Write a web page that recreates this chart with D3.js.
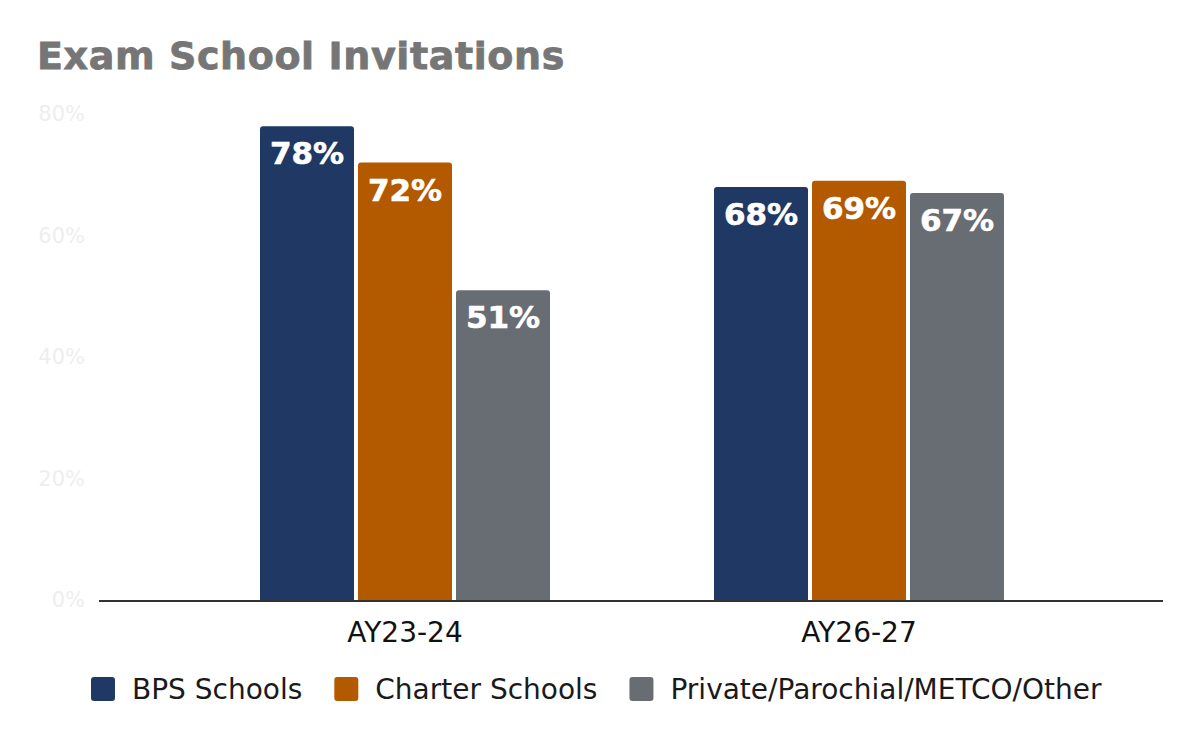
<!DOCTYPE html>
<html>
<head>
    <meta charset="utf-8">
    <script src="https://d3js.org/d3.v7.min.js"></script>
    <style>
        body { margin: 0; background: #ffffff; }
        svg { display: block; }
    </style>
</head>
<body>
    <svg id="chart" width="1200" height="742"></svg>

    <script>
        // Chart data
        const years = ["AY23-24", "AY26-27"];
        const schoolTypes = ["BPS Schools", "Charter Schools", "Private/Parochial/METCO/Other"];
        const bpsValues = [0.78, 0.68];
        const charterValues = [0.72, 0.69];
        const otherValues = [0.51, 0.67];
        const yTicks = [0, 0.2, 0.4, 0.6, 0.8];

        const seriesValues = [bpsValues, charterValues, otherValues];
        const colors = ["#203864", "#b35900", "#686c73"];

        const svg = d3.select("#chart"),
            width = +svg.attr("width"),
            height = +svg.attr("height");

        const font = "'DejaVu Sans', Verdana, sans-serif";

        // plot area
        const axisLeft = 99, axisRight = 1163;
        const baseline = 600;
        const groupWidth = 290;

        const y = d3.scaleLinear()
            .domain([0, 0.8])
            .range([baseline, 114]);

        const x0 = d3.scaleBand()
            .domain(years)
            .range([178, 1086]);

        const x1 = d3.scaleBand()
            .domain(schoolTypes)
            .range([0, groupWidth])
            .paddingInner(4 / 98);

        // Title
        svg.append("text")
            .attr("x", 37)
            .attr("y", 69)
            .attr("font-family", font)
            .attr("font-weight", "bold")
            .attr("font-size", "38px")
            .attr("letter-spacing", "0.6px")
            .attr("fill", "#767676")
            .attr("stroke", "#767676")
            .attr("stroke-width", 0.8)
            .text("Exam School Invitations");

        // Y axis (labels only)
        const yAxis = svg.append("g")
            .attr("transform", `translate(${axisLeft - 14},0)`)
            .call(d3.axisLeft(y).tickValues(yTicks).tickSize(0).tickFormat(d3.format(".0%")));
        yAxis.select(".domain").remove();
        yAxis.selectAll("text")
            .attr("font-family", font)
            .attr("font-size", "21px")
            .attr("fill", "#eeeeee")
            .attr("x", 0);

        // Bars
        const groups = svg.append("g")
            .selectAll("g")
            .data(years)
            .join("g")
            .attr("transform", d => `translate(${x0(d) + (x0.bandwidth() - groupWidth) / 2},0)`);

        const barData = i => schoolTypes.map((s, j) => ({ type: s, value: seriesValues[j][i], color: colors[j] }));

        groups.each(function (year, i) {
            const g = d3.select(this);
            const data = barData(i);
            const r = 3;

            g.selectAll("path")
                .data(data)
                .join("path")
                .attr("fill", d => d.color)
                .attr("d", d => {
                    const bx = x1(d.type), bw = x1.bandwidth(), top = y(d.value);
                    return `M${bx},${baseline}V${top + r}Q${bx},${top} ${bx + r},${top}` +
                        `H${bx + bw - r}Q${bx + bw},${top} ${bx + bw},${top + r}V${baseline}Z`;
                });

            g.selectAll("text")
                .data(data)
                .join("text")
                .attr("x", d => x1(d.type) + x1.bandwidth() / 2)
                .attr("y", d => y(d.value) + 38)
                .attr("text-anchor", "middle")
                .attr("font-family", font)
                .attr("font-weight", "bold")
                .attr("font-size", "31px")
                .attr("fill", "#ffffff")
                .attr("stroke", "#ffffff")
                .attr("stroke-width", 0.6)
                .text(d => d3.format(".0%")(d.value));
        });

        // Baseline
        svg.append("line")
            .attr("x1", axisLeft)
            .attr("x2", axisRight)
            .attr("y1", baseline + 1)
            .attr("y2", baseline + 1)
            .attr("stroke", "#333333")
            .attr("stroke-width", 2);

        // X labels
        svg.append("g")
            .selectAll("text")
            .data(years)
            .join("text")
            .attr("x", d => x0(d) + x0.bandwidth() / 2)
            .attr("y", 642)
            .attr("text-anchor", "middle")
            .attr("font-family", font)
            .attr("font-size", "28px")
            .attr("fill", "#111111")
            .text(d => d);

        // Legend
        const legend = svg.append("g");
        let lx = 91;
        schoolTypes.forEach((s, j) => {
            legend.append("rect")
                .attr("x", lx)
                .attr("y", 677)
                .attr("width", 24)
                .attr("height", 24)
                .attr("rx", 3)
                .attr("fill", colors[j]);
            const t = legend.append("text")
                .attr("x", lx + 41)
                .attr("y", 699)
                .attr("font-family", font)
                .attr("font-size", "28px")
                .attr("fill", "#1a1a1a")
                .text(s);
            lx += 41 + t.node().getComputedTextLength() + 32;
        });
    </script>
</body>
</html>
